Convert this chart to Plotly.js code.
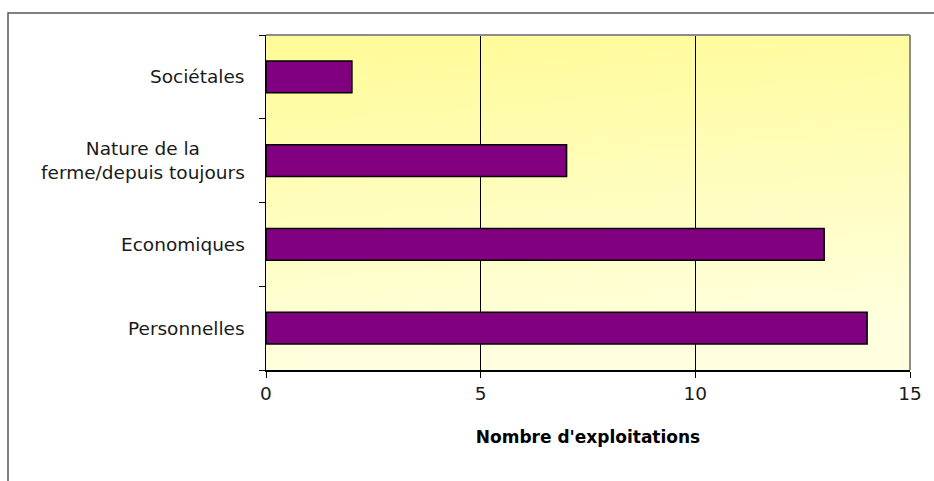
<!DOCTYPE html>
<html>
<head>
<meta charset="utf-8">
<script src="https://cdn.plot.ly/plotly-3.0.1.min.js"></script>
<style>html,body{margin:0;padding:0;background:#fff;}</style>
</head>
<body>
<div id="chart" style="width:934px;height:481px;"></div>
<script>
// Data (bottom to top)
const categories = ['Personnelles', 'Economiques', 'Nature de la ferme/depuis toujours', 'Sociétales'];
const categoryLabels = ['Personnelles', 'Economiques', 'Nature de la<br>ferme/depuis toujours', 'Sociétales'];
const values = [14, 13, 7, 2];
const xTicks = [0, 5, 10, 15];
const xTitle = "Nombre d'exploitations";

const FONT = 'DejaVu Sans';
const W = 934, H = 481;
const ML = 266, MR = 24, MT = 35, MB = 111;
const PW = W - ML - MR, PH = H - MT - MB;

const gradSvg = '<svg xmlns="http://www.w3.org/2000/svg" width="100" height="100" preserveAspectRatio="none">' +
  '<defs><linearGradient id="g" x1="0" y1="0" x2="0.15" y2="1">' +
  '<stop offset="0" stop-color="#FFFB96"/><stop offset="1" stop-color="#FFFFE0"/>' +
  '</linearGradient></defs><rect width="100" height="100" fill="url(#g)"/></svg>';
const gradSrc = 'data:image/svg+xml;charset=utf-8,' + encodeURIComponent(gradSvg);

const trace = {
  type: 'bar',
  orientation: 'h',
  y: categories,
  x: values,
  marker: { color: '#800080', line: { color: '#000000', width: 1.6 } },
  hoverinfo: 'x+y'
};

const annotations = categories.map((c, i) => ({
  xref: 'paper', yref: 'y', x: 0, y: c,
  xanchor: 'right', yanchor: 'middle', xshift: -19,
  text: categoryLabels[i], showarrow: false, align: 'center',
  font: { family: FONT, size: 18.5, color: '#1a1a1a' }
}));

const layout = {
  width: W, height: H,
  margin: { l: ML, r: MR, t: MT, b: MB, pad: 0 },
  paper_bgcolor: '#ffffff',
  plot_bgcolor: '#FFFFC4',
  showlegend: false,
  bargap: 0.62,
  font: { family: FONT, size: 18.5, color: '#1a1a1a' },
  xaxis: {
    range: [0, 15],
    tickvals: xTicks,
    ticktext: xTicks.map(String),
    ticks: 'outside', ticklen: 6, tickcolor: '#000', tickwidth: 1,
    showgrid: true, gridcolor: '#000000', gridwidth: 1,
    zeroline: false,
    showline: true, linecolor: '#000000', linewidth: 1.5,
    tickfont: { family: FONT, size: 18.5, color: '#1a1a1a' },
    title: { text: '<b>' + xTitle + '</b>', font: { family: FONT, size: 17, color: '#000' }, standoff: 28 },
    fixedrange: true
  },
  yaxis: {
    type: 'category',
    categoryorder: 'array',
    categoryarray: categories,
    range: [-0.5, 3.5],
    tickson: 'boundaries',
    ticks: 'outside', ticklen: 6, tickcolor: '#000', tickwidth: 1,
    showticklabels: false,
    showgrid: false,
    showline: true, linecolor: '#000000', linewidth: 1.5,
    fixedrange: true
  },
  images: [{
    source: gradSrc, xref: 'x domain', yref: 'y domain',
    x: 0, y: 1, sizex: 1, sizey: 1, xanchor: 'left', yanchor: 'top',
    sizing: 'stretch', layer: 'below'
  }],
  shapes: [
    { type: 'line', xref: 'paper', yref: 'paper', x0: 0, x1: 1, y0: 1, y1: 1, line: { color: '#8c8c8c', width: 2 } },
    { type: 'line', xref: 'paper', yref: 'paper', x0: 1, x1: 1, y0: 0, y1: 1, line: { color: '#8c8c8c', width: 2 } },
    { type: 'rect', xref: 'paper', yref: 'paper',
      x0: (8 - ML) / PW, x1: 2, y0: -1, y1: 1 + (MT - 13) / PH,
      line: { color: '#555555', width: 1.5 }, fillcolor: 'rgba(0,0,0,0)' }
  ],
  annotations: annotations
};

Plotly.newPlot('chart', [trace], layout, { displayModeBar: false, staticPlot: true });
</script>
</body>
</html>
